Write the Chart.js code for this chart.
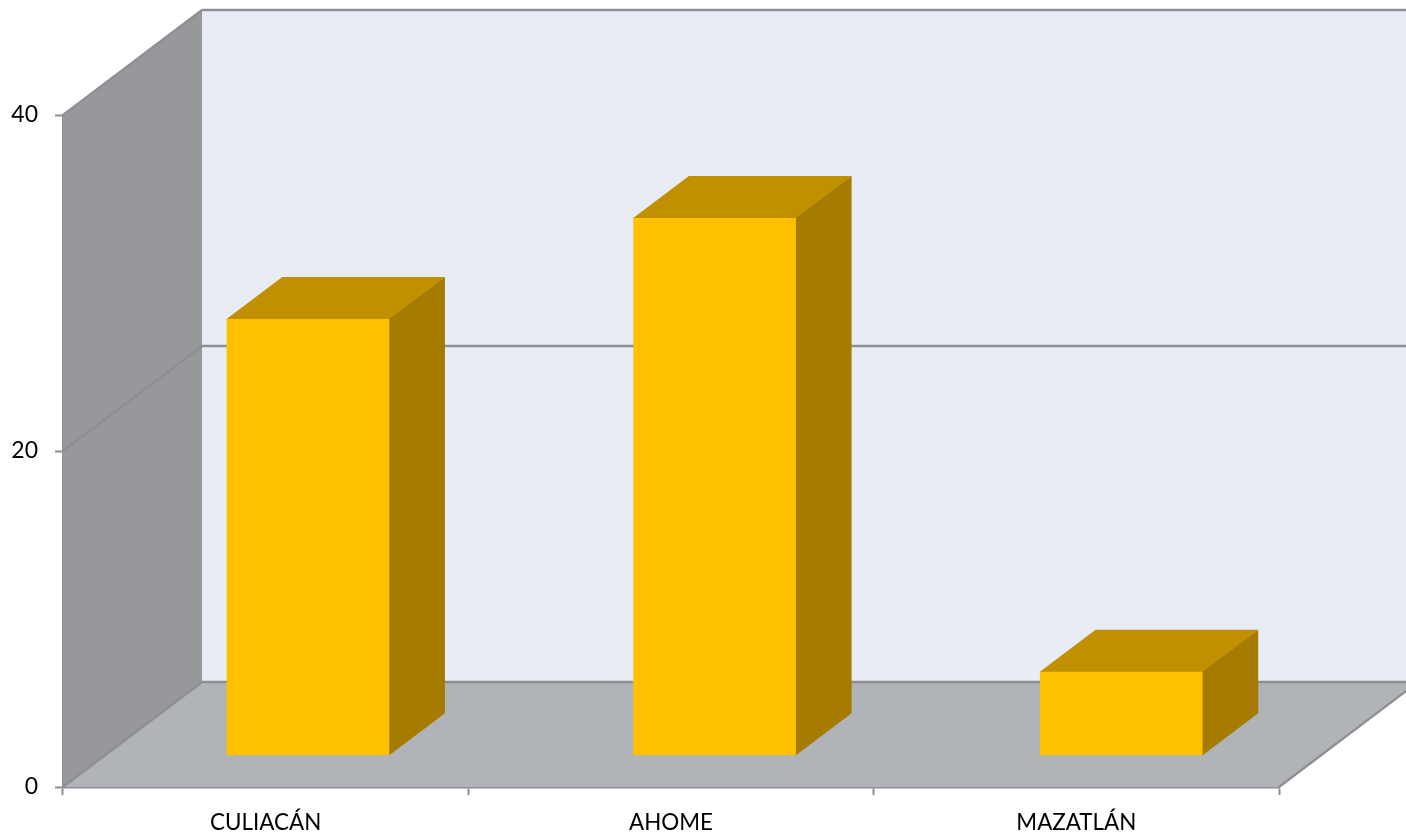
<!DOCTYPE html>
<html>
<head>
<meta charset="utf-8">
<style>
  html, body { margin: 0; padding: 0; background: #fff; overflow: hidden; }
  canvas { display: block; }
</style>
<script src="https://cdn.jsdelivr.net/npm/chart.js@4"></script>
</head>
<body>
<canvas id="myChart" width="1406" height="833"></canvas>
<script>
const municipios = ['CULIACÁN', 'AHOME', 'MAZATLÁN'];
const cantidades = [26, 32, 5];
const ticksY = [0, 20, 40];

// Fondo 3D: pared lateral, piso y pared trasera
const paredes3D = {
    id: 'paredes3D',
    beforeDatasetsDraw(chart) {
        const { ctx, chartArea: a, scales: { y } } = chart;
        const dx = 139, dy = 105;
        const poly = (puntos, color) => {
            ctx.beginPath();
            puntos.forEach((p, i) => i ? ctx.lineTo(p[0], p[1]) : ctx.moveTo(p[0], p[1]));
            ctx.closePath();
            ctx.fillStyle = color;
            ctx.fill();
        };
        const linea = (puntos, ancho) => {
            ctx.beginPath();
            puntos.forEach((p, i) => i ? ctx.lineTo(p[0], p[1]) : ctx.moveTo(p[0], p[1]));
            ctx.strokeStyle = '#8e8f92';
            ctx.lineWidth = ancho;
            ctx.stroke();
        };
        ctx.save();
        poly([[a.left + dx, a.top - dy], [a.right + dx, a.top - dy], [a.right + dx, a.bottom - dy], [a.left + dx, a.bottom - dy]], '#e8ecf5');
        poly([[a.left, a.bottom], [a.left, a.top], [a.left + dx, a.top - dy], [a.left + dx, a.bottom - dy]], '#97989c');
        poly([[a.left, a.bottom], [a.left + dx, a.bottom - dy], [a.right + dx, a.bottom - dy], [a.right, a.bottom]], '#b0b3b8');
        ticksY.forEach(valor => {
            const py = y.getPixelForValue(valor);
            linea([[a.left, py], [a.left + dx, py - dy]], 2.2);
            linea([[a.left + dx, py - dy], [a.right + dx, py - dy]], 2.5);
        });
        linea([[a.right, a.bottom], [a.right + dx, a.bottom - dy]], 2.2);
        ctx.restore();
    }
};

// Barras desplazadas hacia el fondo, con cara superior y lateral
const barras3D = {
    id: 'barras3D',
    beforeDatasetDraw(chart, args) {
        const { ctx } = chart;
        const dx = 55.5, dy = 42;
        ctx.save();
        ctx.translate(41.4, -31.3);
        ctx.scale(1.00326, 1);
        args.meta.data.forEach(bar => {
            const izq = bar.x - bar.width / 2;
            const der = bar.x + bar.width / 2;
            // las caras entran 1px bajo el frente para que no quede costura
            ctx.fillStyle = '#c09000';
            ctx.beginPath();
            ctx.moveTo(izq, bar.y + 1);
            ctx.lineTo(izq, bar.y);
            ctx.lineTo(izq + dx, bar.y - dy);
            ctx.lineTo(der + dx, bar.y - dy);
            ctx.lineTo(der, bar.y + 1);
            ctx.closePath();
            ctx.fill();
            ctx.fillStyle = '#a67c00';
            ctx.beginPath();
            ctx.moveTo(der - 1, bar.y);
            ctx.lineTo(der, bar.y);
            ctx.lineTo(der + dx, bar.y - dy);
            ctx.lineTo(der + dx, bar.base - dy);
            ctx.lineTo(der, bar.base);
            ctx.lineTo(der - 1, bar.base);
            ctx.closePath();
            ctx.fill();
        });
    },
    afterDatasetDraw(chart) {
        chart.ctx.restore();
    }
};

const data = {
    labels: municipios,
    datasets: [{
        data: cantidades,
        backgroundColor: '#ffc000',
        borderWidth: 0,
        barPercentage: 0.4,
        categoryPercentage: 1,
        clip: false
    }]
};

const config = {
    type: 'bar',
    data: data,
    options: {
        responsive: false,
        animation: false,
        layout: { padding: { top: 115, right: 127 } },
        plugins: {
            legend: { display: false },
            tooltip: { enabled: false }
        },
        scales: {
            x: {
                afterFit: scale => { scale.height = 46; },
                border: { color: '#8e8f92', width: 2.5 },
                grid: { drawOnChartArea: false, tickLength: 8, tickColor: '#8e8f92', tickWidth: 2 },
                ticks: { color: '#000', padding: 14, maxRotation: 0, font: { family: 'Lato', size: 22.4 } }
            },
            y: {
                min: 0,
                max: 40,
                afterFit: scale => { scale.width = 63; },
                afterBuildTicks: scale => { scale.ticks = ticksY.map(value => ({ value })); },
                border: { color: '#8e8f92', width: 2.5 },
                grid: { drawOnChartArea: false, tickLength: 8, tickColor: '#8e8f92', tickWidth: 2 },
                ticks: { color: '#000', padding: 17, font: { family: 'Lato', size: 23 } }
            }
        }
    },
    plugins: [paredes3D, barras3D]
};

new Chart(document.getElementById('myChart'), config);
</script>
</body>
</html>
